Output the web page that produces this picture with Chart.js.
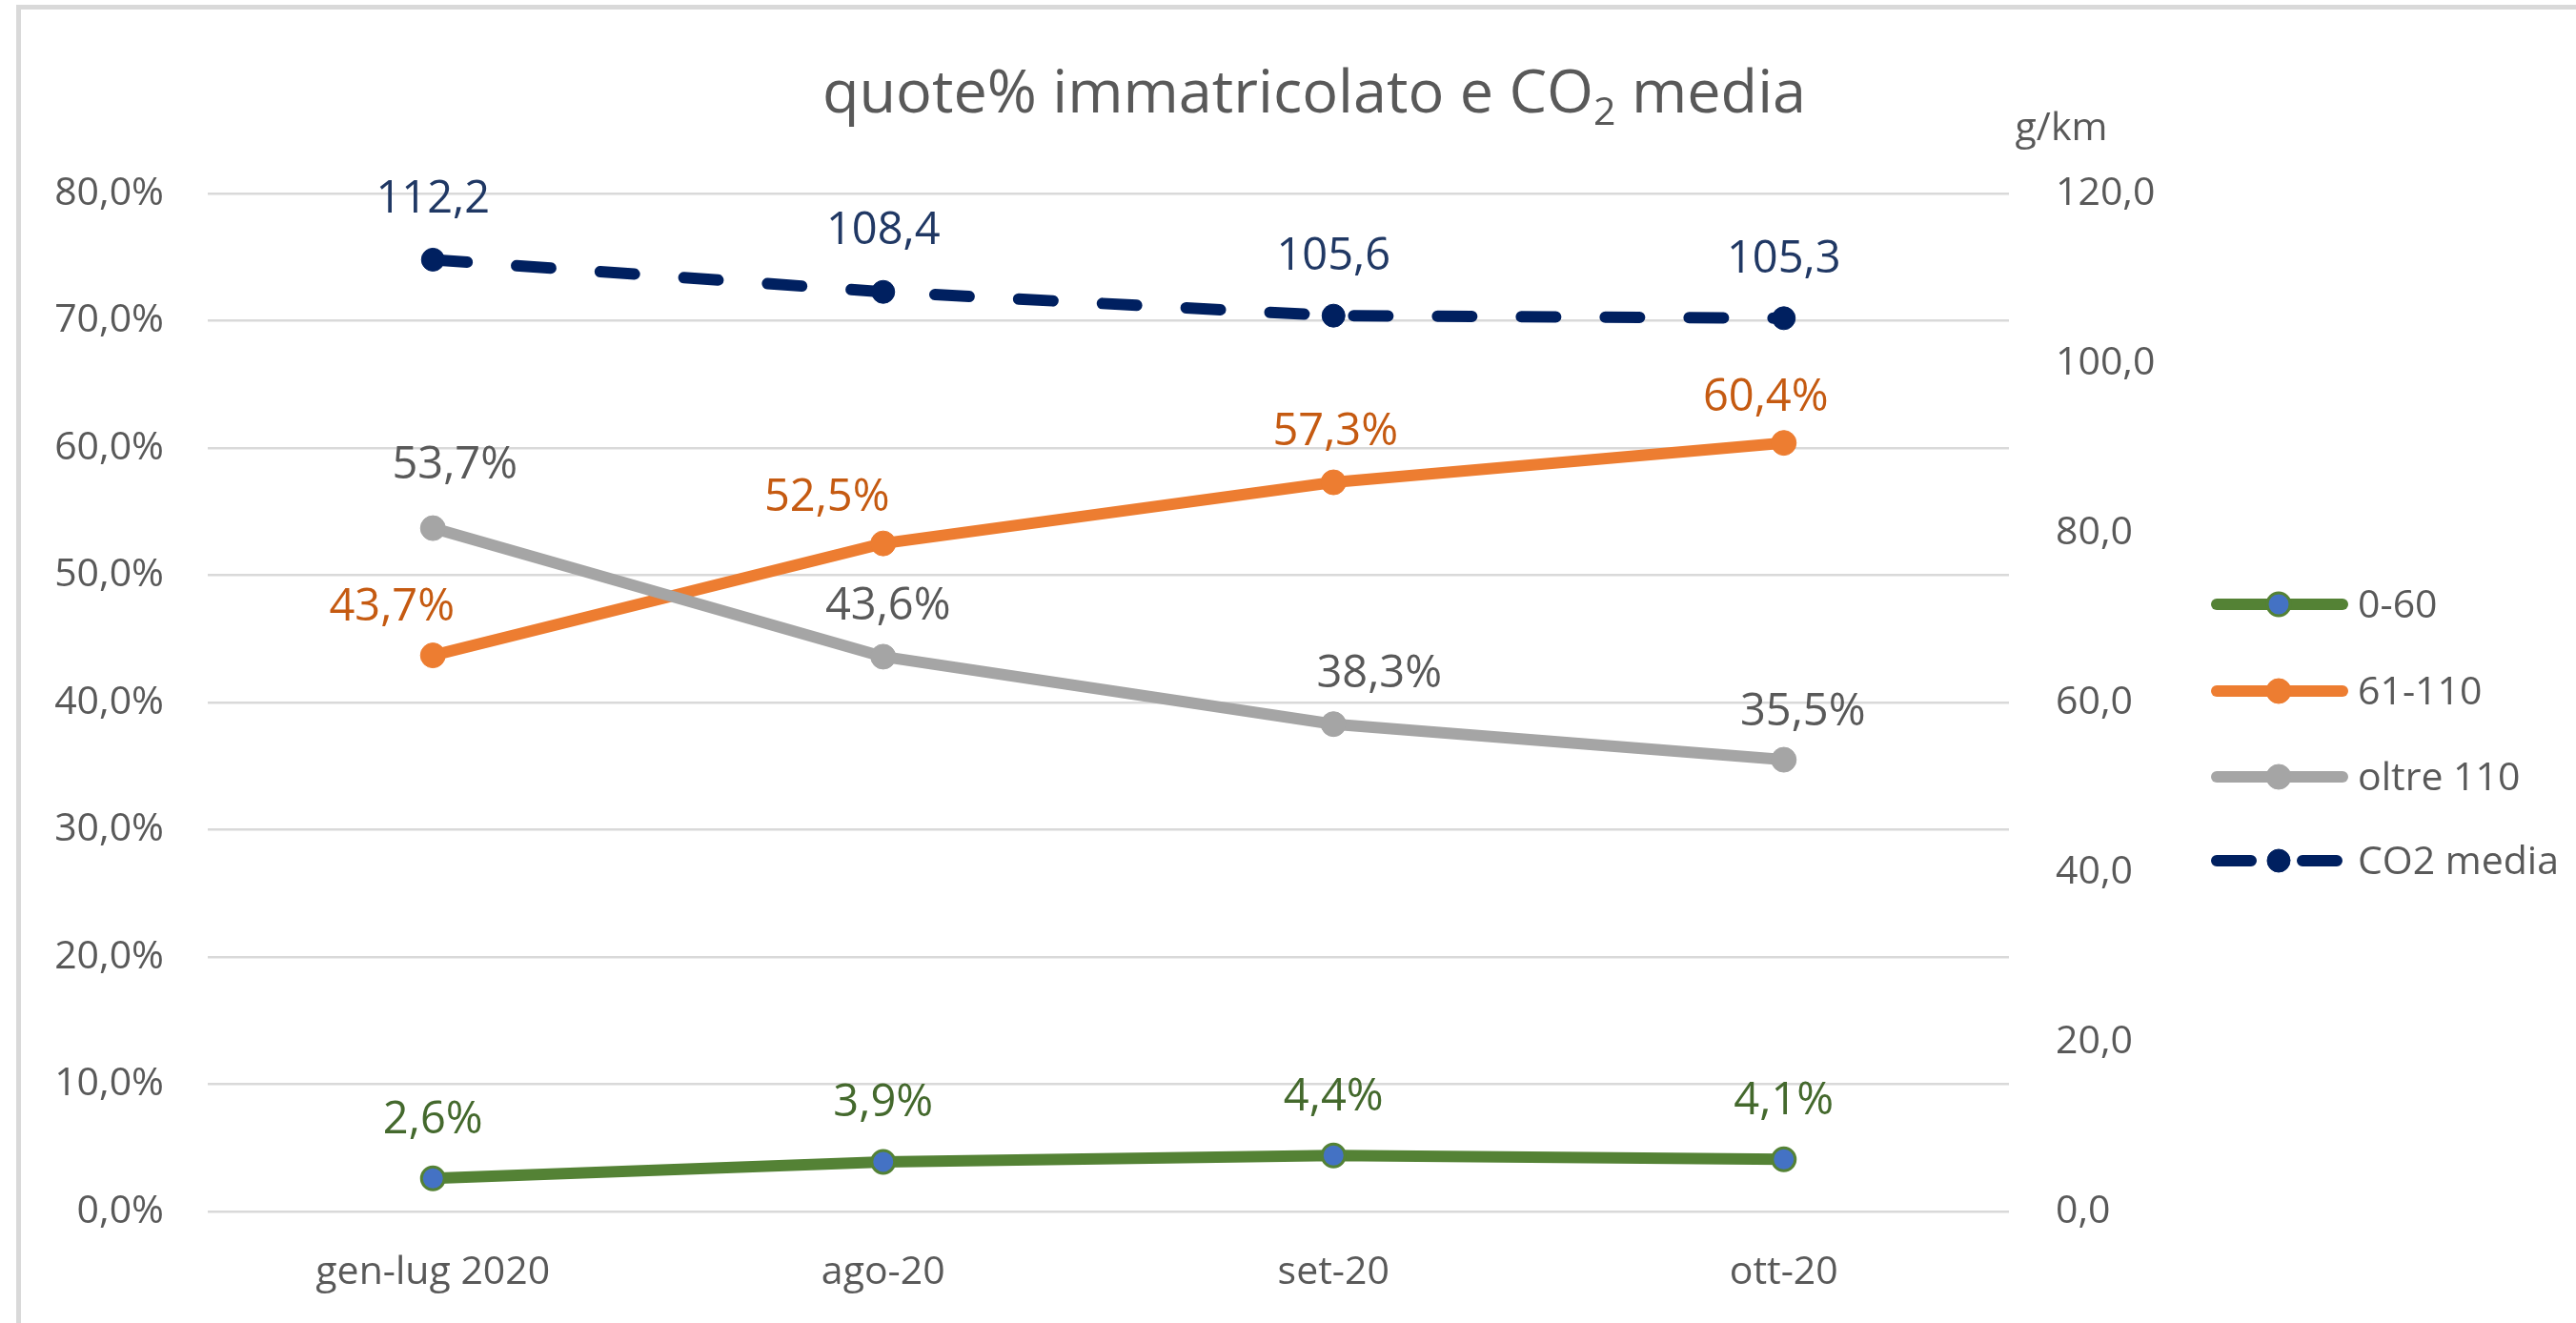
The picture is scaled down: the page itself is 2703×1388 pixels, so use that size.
<!DOCTYPE html>
<html>
<head>
  <title>quote% immatricolato e CO2 media</title>
  <style>
    body { margin: 0; background: #fff; }
  </style>
</head>
<body>
<div>
  <canvas id="myChart" width="2703" height="1388" style="width:2703px;height:1388px"></canvas>
</div>
<script src="https://cdn.jsdelivr.net/npm/chart.js@4.4.1/dist/chart.umd.min.js"></script>

<script>
  // data
  const categories = ['gen-lug 2020', 'ago-20', 'set-20', 'ott-20'];
  const share0to60 = [2.6, 3.9, 4.4, 4.1];
  const share61to110 = [43.7, 52.5, 57.3, 60.4];
  const shareOver110 = [53.7, 43.6, 38.3, 35.5];
  const co2Media = [112.2, 108.4, 105.6, 105.3];
  const seriesNames = ['0-60', '61-110', 'oltre 110', 'CO2 media'];
  const pctMax = 80, pctStep = 10;
  const co2Max = 120, co2Step = 20;

  // label nudges (dx, dy) per series/point, as placed in the original
  const labelNudge = [
    [[0, -61], [0, -61], [0, -61], [0, -61]],
    [[-43, -50], [-59, -48], [2, -52], [-19, -47]],
    [[23, -65], [5, -52], [48, -52], [20, -49]],
    [[0, -63], [0, -64], [0, -62], [0, -61]]
  ];
  const labelColors = ['#44692d', '#c55a11', '#595959', '#203864'];

  const FONT = '"Open Sans", "Noto Sans", sans-serif';
  const GREY = '#595959';

  const fmt = v => v.toFixed(1).replace('.', ',');

  const excelLook = {
    id: 'excelLook',
    beforeDraw(chart) {
      const ctx = chart.ctx;
      ctx.save();
      ctx.fillStyle = '#fff';
      ctx.fillRect(0, 0, chart.width, chart.height);
      ctx.strokeStyle = '#d9d9d9';
      ctx.lineWidth = 5;
      ctx.beginPath();
      ctx.moveTo(19.5, chart.height);
      ctx.lineTo(19.5, 7.5);
      ctx.lineTo(chart.width, 7.5);
      ctx.stroke();
      ctx.restore();
    },
    afterDatasetsDraw(chart) {
      const ctx = chart.ctx;
      ctx.save();
      ctx.font = '47px ' + FONT;
      ctx.textAlign = 'center';
      ctx.textBaseline = 'middle';
      chart.data.datasets.forEach((ds, i) => {
        const meta = chart.getDatasetMeta(i);
        meta.data.forEach((pt, j) => {
          const txt = i < 3 ? fmt(ds.data[j]) + '%' : fmt(ds.data[j]);
          const n = labelNudge[i][j];
          ctx.fillStyle = labelColors[i];
          ctx.fillText(txt, pt.x + n[0], pt.y + n[1]);
        });
      });
      ctx.restore();
    },
    afterDraw(chart) {
      const ctx = chart.ctx;
      ctx.save();
      ctx.fillStyle = GREY;
      ctx.textBaseline = 'alphabetic';

      // title with subscript 2
      const big = '63px ' + FONT, small = '41px ' + FONT;
      const p1 = 'quote% immatricolato e CO', p2 = '2', p3 = ' media';
      ctx.font = big;
      const w1 = ctx.measureText(p1).width, w3 = ctx.measureText(p3).width;
      ctx.font = small;
      const w2 = ctx.measureText(p2).width;
      let x = 1379 - (w1 + w2 + w3) / 2;
      const base = 118;
      ctx.textAlign = 'left';
      ctx.font = big;
      ctx.fillText(p1, x, base);
      x += w1;
      ctx.font = small;
      ctx.fillText(p2, x, base + 13);
      x += w2;
      ctx.font = big;
      ctx.fillText(p3, x, base);

      // unit of the right axis
      ctx.font = '41px ' + FONT;
      ctx.textAlign = 'center';
      ctx.fillText('g/km', 2163, 147);

      // legend
      const rows = [634, 725, 815, 903];
      chart.data.datasets.forEach((ds, i) => {
        const y = rows[i];
        const dashed = ds.borderDash && ds.borderDash.length;
        ctx.strokeStyle = ds.borderColor;
        ctx.lineWidth = 12;
        ctx.lineCap = 'round';
        ctx.setLineDash(dashed ? [36, 54] : []);
        ctx.beginPath();
        ctx.moveTo(2326, y);
        ctx.lineTo(dashed ? 2452 : 2458, y);
        ctx.stroke();
        ctx.setLineDash([]);
        ctx.beginPath();
        ctx.arc(2391, y, ds.pointRadius, 0, Math.PI * 2);
        ctx.fillStyle = ds.pointBackgroundColor;
        ctx.fill();
        ctx.lineWidth = ds.pointBorderWidth;
        ctx.strokeStyle = ds.pointBorderColor;
        ctx.stroke();
        ctx.fillStyle = GREY;
        ctx.font = '41px ' + FONT;
        ctx.textAlign = 'left';
        ctx.textBaseline = 'middle';
        ctx.fillText(seriesNames[i], 2474, y + 2);
      });
      ctx.restore();
    }
  };

  const lineSet = (label, data, color, extra) => Object.assign({
    label: label,
    data: data,
    borderColor: color,
    backgroundColor: color,
    borderWidth: 12,
    borderCapStyle: 'round',
    borderJoinStyle: 'round',
    pointRadius: 13,
    pointBackgroundColor: color,
    pointBorderColor: color,
    pointBorderWidth: 1,
    fill: false,
    tension: 0,
    yAxisID: 'y'
  }, extra || {});

  const chartData = {
    labels: categories,
    datasets: [
      lineSet(seriesNames[0], share0to60, '#548235', {
        pointRadius: 12, pointBackgroundColor: '#4472c4', pointBorderColor: '#548235', pointBorderWidth: 3, order: 3
      }),
      lineSet(seriesNames[1], share61to110, '#ed7d31', { order: 2 }),
      lineSet(seriesNames[2], shareOver110, '#a5a5a5', { order: 1 }),
      lineSet(seriesNames[3], co2Media, '#002060', {
        yAxisID: 'y1', borderDash: [36, 52], pointRadius: 12, order: 0
      })
    ]
  };

  const tickFont = { family: FONT, size: 41 };

  const options = {
    responsive: false,
    animation: false,
    devicePixelRatio: 1,
    layout: { padding: { top: 203, left: 0, right: 0, bottom: 0 } },
    plugins: {
      legend: { display: false },
      title: { display: false },
      tooltip: { enabled: false }
    },
    scales: {
      x: {
        offset: true,
        grid: { display: false, drawTicks: false },
        border: { display: false },
        ticks: { font: tickFont, color: GREY, padding: 40, maxRotation: 0 },
        afterFit: s => { s.height = 117; }
      },
      y: {
        position: 'left',
        min: 0,
        max: pctMax,
        grid: { color: '#d9d9d9', lineWidth: 2.5, drawTicks: false },
        border: { display: false },
        ticks: {
          stepSize: pctStep,
          font: tickFont,
          color: GREY,
          padding: 46,
          callback: v => fmt(v) + '%'
        },
        afterFit: s => { s.width = 218; }
      },
      y1: {
        position: 'right',
        min: 0,
        max: co2Max,
        grid: { display: false, drawTicks: false },
        border: { display: false },
        ticks: {
          stepSize: co2Step,
          font: tickFont,
          color: GREY,
          padding: 49,
          callback: v => fmt(v)
        },
        afterFit: s => { s.width = 595; }
      }
    }
  };

  new Chart(document.getElementById('myChart').getContext('2d'), {
    type: 'line',
    data: chartData,
    options: options,
    plugins: [excelLook]
  });
</script>
</body>
</html>
